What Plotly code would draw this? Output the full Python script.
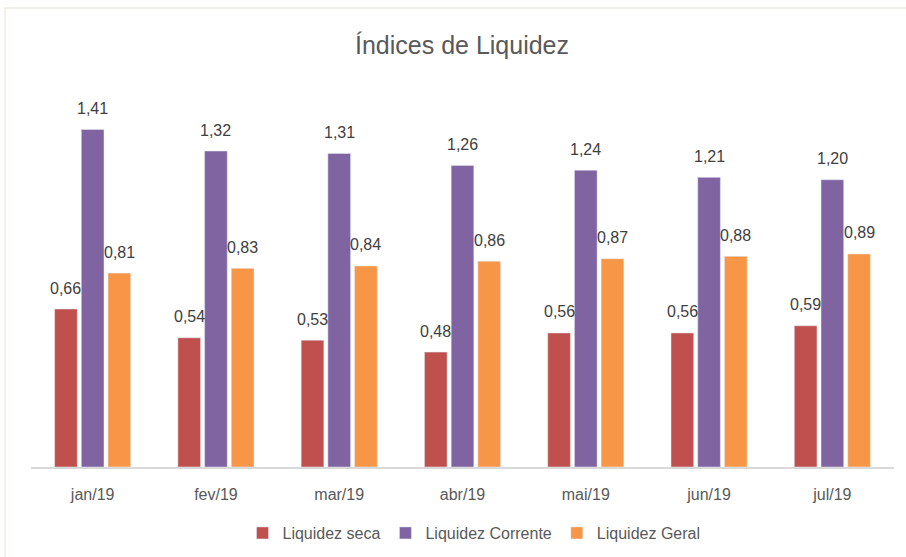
import plotly.graph_objects as go

categories = ["jan/19", "fev/19", "mar/19", "abr/19", "mai/19", "jun/19", "jul/19"]
liquidez_seca = [0.66, 0.54, 0.53, 0.48, 0.56, 0.56, 0.59]
liquidez_corrente = [1.41, 1.32, 1.31, 1.26, 1.24, 1.21, 1.20]
liquidez_geral = [0.81, 0.83, 0.84, 0.86, 0.87, 0.88, 0.89]

series = [
    ("Liquidez seca", liquidez_seca, "#C0504D"),
    ("Liquidez Corrente", liquidez_corrente, "#8064A2"),
    ("Liquidez Geral", liquidez_geral, "#F79646"),
]

FONT = "Liberation Sans"
TXT = "#595959"

W, H = 906, 557
L, R, T, B = 31, 12, 84, 90
pw = W - L - R
ph = H - T - B
BARGAP = 0.35

def px_x(p):
    return (p - L) / pw

def px_y(p):
    return (H - B - p) / ph

fig = go.Figure()
annotations = []
slot = pw / len(categories)
step = slot * (1 - BARGAP) / len(series)
for i, (name, vals, color) in enumerate(series):
    fig.add_trace(go.Bar(x=categories, y=vals, name=name, marker_color=color))
    for c, v in zip(categories, vals):
        annotations.append(dict(
            x=c, y=v, xref="x", yref="y", text=f"{v:.2f}".replace(".", ","),
            showarrow=False, xanchor="center", yanchor="middle",
            xshift=(i - 1) * step, yshift=21,
            font=dict(family=FONT, size=16, color="#404040"),
        ))

fig.update_layout(
    width=W, height=H,
    margin=dict(l=L, r=R, t=T, b=B, autoexpand=False),
    paper_bgcolor="white", plot_bgcolor="white",
    barmode="group", bargap=BARGAP, bargroupgap=0.15,
    title=dict(text="Índices de Liquidez", x=462 / W, xanchor="center",
               y=1 - 45 / H, yanchor="middle",
               font=dict(family=FONT, size=25, color=TXT)),
    xaxis=dict(showline=True, linecolor="#D9D9D9", linewidth=1.5, ticks="",
               ticklabelstandoff=12,
               tickfont=dict(family=FONT, size=16, color=TXT), showgrid=False),
    yaxis=dict(range=[0, 1.6], visible=False, showgrid=False),
    legend=dict(orientation="h", x=px_x(474), xanchor="center", y=px_y(533), yanchor="middle",
                font=dict(family=FONT, size=16, color=TXT), itemwidth=30,
                traceorder="normal"),
    showlegend=True,
    annotations=annotations,
    shapes=[dict(type="rect", xref="paper", yref="paper",
                 x0=px_x(5), x1=px_x(915), y0=px_y(565), y1=px_y(8),
                 line=dict(color="#EEECE1", width=1.5), layer="below")],
)

fig.write_html("out.html", config={"displayModeBar": False},
               post_script="document.body.style.margin='0';")
